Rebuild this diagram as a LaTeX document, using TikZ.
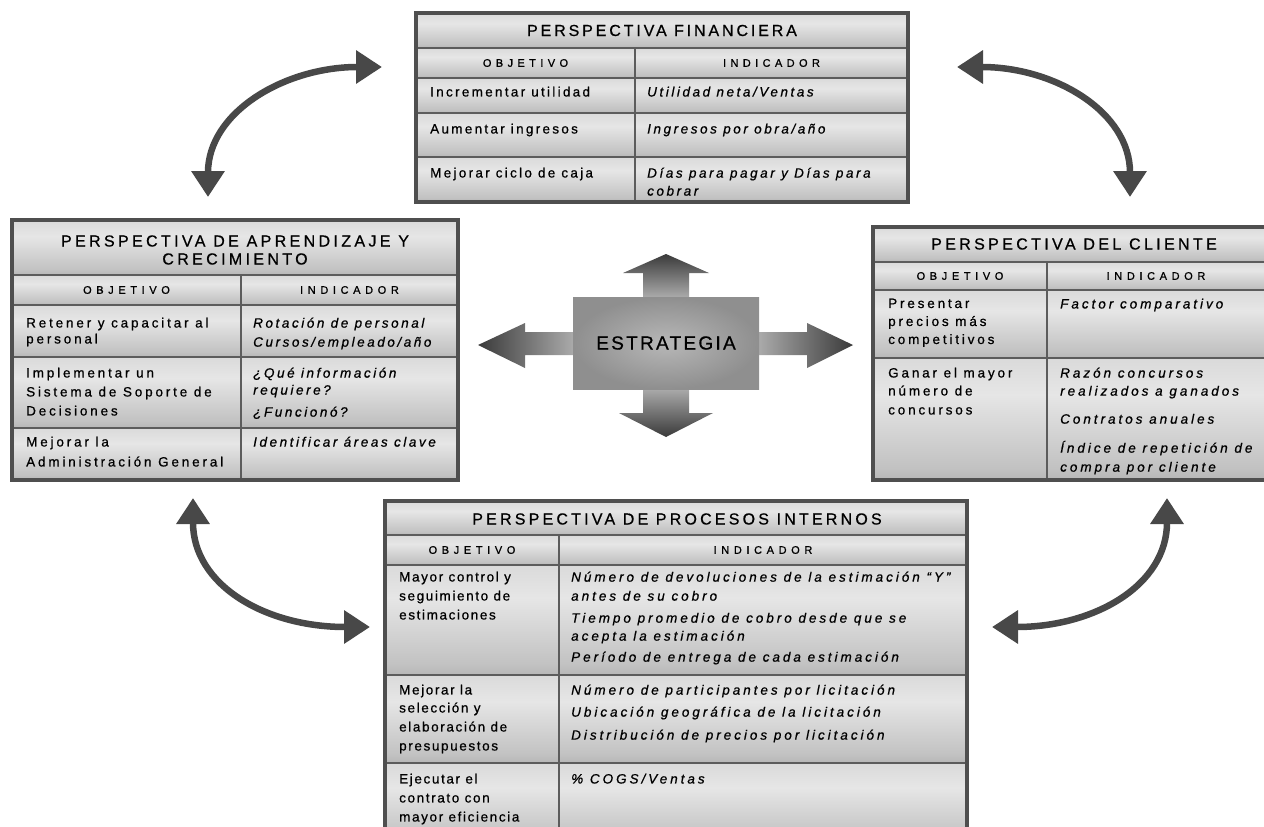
\documentclass[tikz,border=0pt]{standalone}
\usepackage{fontspec}
\setmainfont{Liberation Sans}
\newcommand\bodyfnt[1]{\fontspec{Liberation Sans}[LetterSpace=#1, FakeBold=0.7]\fontsize{13.5}{19}\selectfont}
\newcommand\headfnt[1]{\fontspec{Liberation Sans}[LetterSpace=#1, FakeBold=0.7]\fontsize{11}{13}\selectfont}
\newcommand\titlefnt[1]{\fontspec{Liberation Sans}[LetterSpace=#1, FakeBold=0.7]\fontsize{16}{18}\selectfont}
\newfontfamily\stratfont{Liberation Sans}[LetterSpace=12, FakeBold=0.7]
\usetikzlibrary{arrows.meta}

\definecolor{frameC}{HTML}{4F4F4F}
\definecolor{gridC}{HTML}{5C5C5C}
\definecolor{arrowC}{HTML}{484848}
\definecolor{sA}{HTML}{7D7D7D}
\definecolor{sB}{HTML}{C2C2C2}
\definecolor{sC}{HTML}{E6E6E6}
\definecolor{sD}{HTML}{D2D2D2}
\definecolor{sE}{HTML}{A4A4A4}
\definecolor{tipC}{HTML}{3A3A3A}
\definecolor{rootC}{HTML}{AAAAAA}
\pgfdeclareverticalshading{cellfill}{100bp}{color(0bp)=(sA); color(30bp)=(sB); color(60bp)=(sC); color(85bp)=(sD); color(100bp)=(sE)}

\tikzset{
  gridline/.style={draw=gridC, line width=2.2pt},
  frameline/.style={draw=frameC, line width=3.5pt},
  objtext/.style={anchor=north west, align=left, text=black, font=\bodyfnt{#1}},
  objtext/.default=17,
  indtext/.style={anchor=north west, align=left, text=black, font=\bodyfnt{#1}\itshape},
  indtext/.default=19,
  ttltext/.style={align=center, text=black, font=\titlefnt{#1}},
  ttltext/.default=20,
  hdrtext/.style={text=black, font=\headfnt{#1}},
  hdrtext/.default=42,
  linkarrow/.style={draw=arrowC, line width=6.5pt, >={Triangle[length=26pt 0, width=32pt 0]}, <->},
}

\begin{document}
\begin{tikzpicture}[x=1pt, y=-1pt, every node/.style={inner sep=0pt}]
\useasboundingbox (0,0) rectangle (1264,827);
\clip (0,0) rectangle (1264,827);

% ---------- Perspectiva financiera ----------
\foreach \ya/\yb in {13/48,48/78,78/113,113/157,157/202}
  \shade[shading=cellfill] (416,\ya) rectangle (908,\yb);
\foreach \yy in {48,78,113,157} \draw[gridline] (416,\yy) -- (908,\yy);
\draw[gridline] (635,48) -- (635,202);
\draw[frameline] (416,13) rectangle (908,202);
\node[ttltext=18] (fin-title) at (662,30.5) {PERSPECTIVA FINANCIERA};
\node[hdrtext=40] (fin-ho) at (525.5,63) {OBJETIVO};
\node[hdrtext=40] (fin-hi) at (771.5,63) {INDICADOR};
\node[objtext] (fin-o1) at (430,86.5) {Incrementar utilidad};
\node[indtext] (fin-i1) at (647,86.5) {Utilidad neta/Ventas};
\node[objtext] (fin-o2) at (430,123.5) {Aumentar ingresos};
\node[indtext] (fin-i2) at (647,123.5) {Ingresos por obra/año};
\node[objtext] (fin-o3) at (430,167.5) {Mejorar ciclo de caja};
\node[indtext] (fin-i3) at (647,167.5) {Días para pagar y Días para\\[-1pt]cobrar};

% ---------- Perspectiva de aprendizaje y crecimiento ----------
\foreach \ya/\yb in {220/275,275/305,305/357,357/428,428/480}
  \shade[shading=cellfill] (12,\ya) rectangle (458,\yb);
\foreach \yy in {275,305,357,428} \draw[gridline] (12,\yy) -- (458,\yy);
\draw[gridline] (241,275) -- (241,480);
\draw[frameline] (12,220) rectangle (458,480);
\node[ttltext=21] (apr-title) at (235,250) {PERSPECTIVA DE APRENDIZAJE Y\\CRECIMIENTO};
\node[hdrtext] (apr-ho) at (126.5,290) {OBJETIVO};
\node[hdrtext] (apr-hi) at (349.5,290) {INDICADOR};
\node[objtext=21] (apr-o1) at (26,317.5) {Retener y capacitar al\\[-3pt]personal};
\node[indtext=19] (apr-i1) at (253,317.5) {Rotación de personal\\Cursos/empleado/año};
\node[objtext=21] (apr-o2) at (26,367.5) {Implementar un\\Sistema de Soporte de\\Decisiones};
\node[indtext=19] (apr-i2) at (253,367.5) {¿Qué información\\[-2pt]requiere?\\[3pt]¿Funcionó?};
\node[objtext=21] (apr-o3) at (26,436.5) {Mejorar la\\[1pt]Administración General};
\node[indtext=19] (apr-i3) at (253,436.5) {Identificar áreas clave};

% ---------- Perspectiva del cliente ----------
\foreach \ya/\yb in {227/262,262/290,290/358,358/480}
  \shade[shading=cellfill] (873,\ya) rectangle (1266,\yb);
\foreach \yy in {262,290,358} \draw[gridline] (873,\yy) -- (1266,\yy);
\draw[gridline] (1047,262) -- (1047,480);
\draw[frameline] (873,227) rectangle (1266,480);
\node[ttltext=21] (cli-title) at (1074,244) {PERSPECTIVA DEL CLIENTE};
\node[hdrtext] (cli-ho) at (960,276) {OBJETIVO};
\node[hdrtext] (cli-hi) at (1156,276) {INDICADOR};
\node[objtext=21] (cli-o1) at (888,298.5) {Presentar\\[-1pt]precios más\\[-1pt]competitivos};
\node[indtext=22] (cli-i1) at (1060,298.5) {Factor comparativo};
\node[objtext=21] (cli-o2) at (888,367.5) {Ganar el mayor\\[-1pt]número de\\concursos};
\node[indtext=22] (cli-i2) at (1060,367.5) {Razón concursos\\[-1pt]realizados a ganados\\[9pt]Contratos anuales\\[10pt]Índice de repetición de\\compra por cliente};

% ---------- Perspectiva de procesos internos ----------
\foreach \ya/\yb in {501/535,535/565,565/675,675/763,763/845}
  \shade[shading=cellfill] (385,\ya) rectangle (967,\yb);
\foreach \yy in {535,565,675,763} \draw[gridline] (385,\yy) -- (967,\yy);
\draw[gridline] (559,535) -- (559,845);
\draw[frameline] (385,501) rectangle (967,845);
\node[ttltext=20] (pro-title) at (677,519) {PERSPECTIVA DE PROCESOS INTERNOS};
\node[hdrtext] (pro-ho) at (472,550) {OBJETIVO};
\node[hdrtext] (pro-hi) at (763,550) {INDICADOR};
\node[objtext=12] (pro-o1) at (399,571.5) {Mayor control y\\seguimiento de\\estimaciones};
\node[indtext=22] (pro-i1) at (571,571.5) {Número de devoluciones de la estimación “Y”\\antes de su cobro\\[3pt]Tiempo promedio de cobro desde que se\\[-1pt]acepta la estimación\\[2pt]Período de entrega de cada estimación};
\node[objtext=12] (pro-o2) at (399,684.5) {Mejorar la\\[-1pt]selección y\\elaboración de\\presupuestos};
\node[indtext=22] (pro-i2) at (571,684.5) {Número de participantes por licitación\\[3pt]Ubicación geográfica de la licitación\\[4pt]Distribución de precios por licitación};
\node[objtext=12] (pro-o3) at (399,773.5) {Ejecutar el\\contrato con\\mayor eficiencia};
\node[indtext=22] (pro-i3) at (571,773.5) {\% COGS/Ventas};

% ---------- Estrategia: cross of arrows ----------
\shade[top color=tipC, bottom color=rootC]
  (643,297) -- (643,273) -- (623,273) -- (666,254) -- (709,273) -- (689,273) -- (689,297) -- cycle;
\shade[top color=rootC, bottom color=tipC]
  (643,389) -- (643,413) -- (619,413) -- (666,437) -- (713,413) -- (689,413) -- (689,389) -- cycle;
\shade[left color=tipC, right color=rootC]
  (573,332) -- (525,332) -- (525,323) -- (478,345) -- (525,368) -- (525,355) -- (573,355) -- cycle;
\shade[left color=rootC, right color=tipC]
  (759,332) -- (807,332) -- (807,323) -- (853,345) -- (807,368) -- (807,355) -- (759,355) -- cycle;
\node[shade, inner color=black!28, outer color=black!44, minimum width=186pt, minimum height=92pt,
  text=black, font=\stratfont\fontsize{19}{21}\selectfont] (strat) at (666,343) {ESTRATEGIA};

% ---------- Curved links between perspectives ----------
\coordinate (l1a) at (208,197);
\coordinate (l1b) at (382,67);
\coordinate (l2a) at (957,67);
\coordinate (l2b) at (1130,197);
\coordinate (l3a) at (193,498);
\coordinate (l3b) at (370,627);
\coordinate (l4a) at (992,627);
\coordinate (l4b) at (1167,498);
\draw[linkarrow] (l1a) .. controls (208,112) and (285,67) .. (l1b);
\draw[linkarrow] (l2a) .. controls (1055,67) and (1130,112) .. (l2b);
\draw[linkarrow] (l3a) .. controls (193,585) and (265,627) .. (l3b);
\draw[linkarrow] (l4a) .. controls (1095,627) and (1167,585) .. (l4b);
\end{tikzpicture}
\end{document}
